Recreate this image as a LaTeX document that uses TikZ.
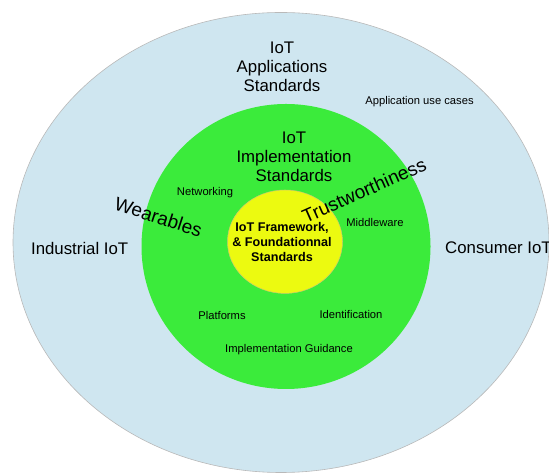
\documentclass[tikz,border=0pt]{standalone}
\usepackage{fontspec}
\setmainfont{Liberation Sans}
\definecolor{appblue}{RGB}{207,230,240}
\definecolor{implgreen}{RGB}{59,235,59}
\definecolor{coreyellow}{RGB}{236,250,16}
\begin{document}
\begin{tikzpicture}[x=1bp,y=1bp,
    big/.style={font=\fontsize{16.8bp}{18.7bp}\selectfont,align=center,inner sep=0pt},
    small/.style={font=\fontsize{11.2bp}{13bp}\selectfont,inner sep=0pt},
    slanted/.style={font=\fontsize{19bp}{22bp}\selectfont,inner sep=0pt},
    corelab/.style={font=\fontsize{12.6bp}{14.8bp}\selectfont\bfseries,align=center,inner sep=0pt}]
  \useasboundingbox (0,0) rectangle (549,473);

  % The three nested rings
  \draw [fill=appblue,draw=gray!55,line width=0.6bp] (281,230.5) ellipse [x radius=268bp, y radius=230bp];
  \fill [implgreen] (286,226.5) ellipse [x radius=144.5bp, y radius=142.5bp];
  \draw [fill=coreyellow,draw=olive!45,line width=0.5bp] (285,231.3) ellipse [x radius=57.5bp, y radius=51.7bp];

  % Ring titles
  \node [big] (apps) at (282,406) {IoT\\Applications\\Standards};
  \node [big] (impl) at (294,316) {IoT\\Implementation\\Standards};
  \node [corelab] (core) at (282,230.7) {IoT Framework,\\\& Foundationnal\\Standards};

  % Sides of the outer ring
  \node [big] (industrial) at (79.7,224) {Industrial IoT};
  \node [big,anchor=west] (consumer) at (445,225) {Consumer IoT};

  % Slanted labels across the green ring
  \node [slanted,rotate=-18] (wearables) at (158.5,256) {Wearables};
  \node [slanted,rotate=24] (trust) at (364,282.5) {Trustworthiness};

  % Small labels
  \foreach \name/\x/\y/\lab in {
    usecases/419.5/371/{Application use cases},
    networking/205/280/Networking,
    middleware/375/250/Middleware,
    platforms/222/157/Platforms,
    identification/351/158/Identification,
    guidance/289/123/{Implementation Guidance}} {
    \node [small] (\name) at (\x,\y) {\lab};
  }
\end{tikzpicture}
\end{document}
